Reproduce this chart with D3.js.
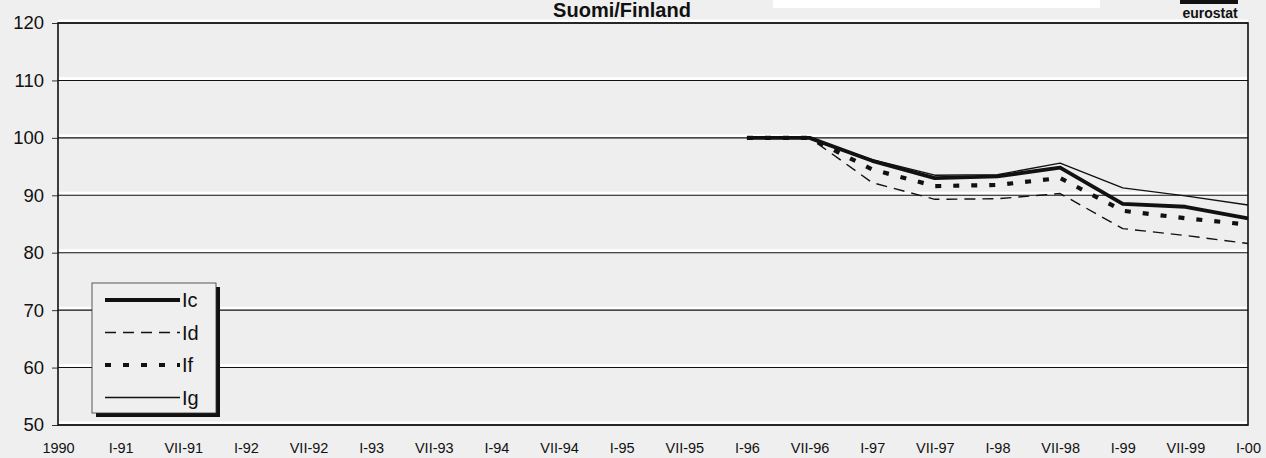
<!DOCTYPE html>
<html><head><meta charset="utf-8">
<script src="https://cdn.jsdelivr.net/npm/d3@7"></script>
<style>
html,body{margin:0;padding:0;background:#efefef;}
svg{display:block;font-family:Arial,"Liberation Sans",sans-serif;}
</style></head>
<body><svg id="c" width="1266" height="458"></svg>
<script>
const xLabels = ["1990","I-91","VII-91","I-92","VII-92","I-93","VII-93","I-94","VII-94","I-95","VII-95","I-96","VII-96","I-97","VII-97","I-98","VII-98","I-99","VII-99","I-00"];
const periods = ["I-96","VII-96","I-97","VII-97","I-98","VII-98","I-99","VII-99","I-00"];
const Ic = [100,100,96.0,93.0,93.3,94.8,88.5,88.0,86.0];
const Id = [100,100,92.2,89.3,89.4,90.3,84.2,83.0,81.6];
const If = [100,100,94.5,91.6,91.8,93.0,87.3,86.0,84.9];
const Ig = [100,100,96.2,93.5,93.6,95.6,91.3,89.9,88.3];
const yTicks = [50,60,70,80,90,100,110,120];
const seriesNames = ["Ic","Id","If","Ig"];
const title = "Suomi/Finland";

const styles = {
  Ic:{w:3.8,dash:null},
  Id:{w:1.4,dash:"11,7"},
  If:{w:4.2,dash:"6,12"},
  Ig:{w:1.4,dash:null}
};
const seriesData = {Ic,Id,If,Ig};

const svg = d3.select("#c");
const L=58,R=1248,T=23,B=425;
const x = d3.scalePoint().domain(xLabels).range([L,R]);
const y = d3.scaleLinear().domain([50,120]).range([B,T]);

svg.append("rect").attr("x",0).attr("y",0).attr("width",1266).attr("height",458).attr("fill","#efefef");
svg.append("rect").attr("x",773).attr("y",0).attr("width",327).attr("height",8).attr("fill","#ffffff");

// plot area
svg.append("rect").attr("x",L).attr("y",T).attr("width",R-L).attr("height",B-T).attr("fill","#eeeeee");

// gridlines with white halo
const g = svg.append("g");
yTicks.forEach(t=>{
  g.append("line").attr("x1",L).attr("x2",R).attr("y1",y(t)-2).attr("y2",y(t)-2).attr("stroke","#ffffff").attr("stroke-width",3);
  g.append("line").attr("x1",L).attr("x2",R).attr("y1",y(t)).attr("y2",y(t)).attr("stroke","#111").attr("stroke-width",1.1);
});

// y axis
const ya = svg.append("g").attr("transform",`translate(${L},0)`)
  .call(d3.axisLeft(y).tickValues(yTicks).tickSize(6).tickPadding(8));
ya.select(".domain").remove();
ya.selectAll("text").attr("font-size",18.5).attr("fill","#111").attr("font-family","Arial, Liberation Sans, sans-serif");
ya.selectAll("line").attr("stroke","#333");

// x axis labels
const xa = svg.append("g").attr("transform",`translate(0,${B})`)
  .call(d3.axisBottom(x).tickSize(0).tickPadding(18));
xa.select(".domain").remove();
xa.selectAll("text").attr("font-size",14.5).attr("fill","#111").attr("font-family","Arial, Liberation Sans, sans-serif");

// lines
const line = d3.line().x((d,i)=>x(periods[i])).y(d=>y(d));
["Ig","Id","If","Ic"].forEach(n=>{
  const s = styles[n];
  svg.append("path").datum(seriesData[n]).attr("d",line).attr("fill","none")
    .attr("stroke","#111").attr("stroke-width",s.w).attr("stroke-linejoin","round")
    .attr("stroke-dasharray",s.dash);
});

// plot border
svg.append("rect").attr("x",L).attr("y",T).attr("width",R-L).attr("height",B-T)
  .attr("fill","none").attr("stroke","#111").attr("stroke-width",1.6);

// legend
const lg = svg.append("g");
const lx=92, ly=283, lw=124, lh=130;
lg.append("rect").attr("x",lx+4).attr("y",ly+4).attr("width",lw).attr("height",lh).attr("fill","#111");
lg.append("rect").attr("x",lx).attr("y",ly).attr("width",lw).attr("height",lh).attr("fill","#efefef").attr("stroke","#333").attr("stroke-width",0.8);
seriesNames.forEach((n,i)=>{
  const yy = ly+17+i*32.5;
  const s = styles[n];
  lg.append("line").attr("x1",lx+13).attr("x2",lx+88).attr("y1",yy).attr("y2",yy)
    .attr("stroke","#111").attr("stroke-width",s.w).attr("stroke-dasharray",s.dash);
  lg.append("text").attr("x",lx+90).attr("y",yy+7).attr("font-size",20).attr("fill","#111").text(n);
});

// title
svg.append("text").attr("x",622).attr("y",17).attr("text-anchor","middle")
  .attr("font-size",20).attr("font-weight","bold").attr("fill","#111").text(title);

// eurostat logo
svg.append("rect").attr("x",1180).attr("y",0).attr("width",58).attr("height",4).attr("fill","#111");
svg.append("text").attr("x",1210).attr("y",18).attr("text-anchor","middle")
  .attr("font-size",14).attr("font-weight","bold").attr("fill","#111").text("eurostat");
</script></body></html>
